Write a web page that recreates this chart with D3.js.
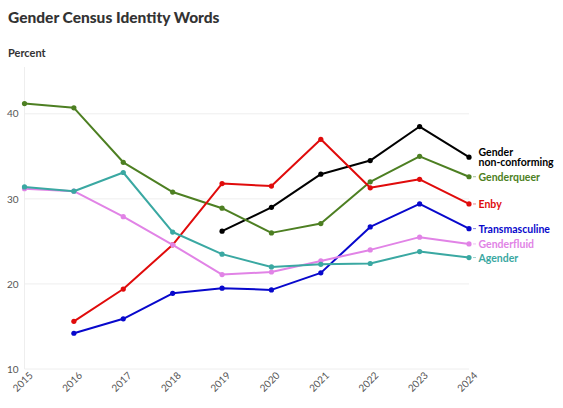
<!DOCTYPE html>
<html>
<head>
<meta charset="utf-8">
<script src="https://cdn.jsdelivr.net/npm/d3@7"></script>
<style>
  body { margin: 0; background: #fff; }
  svg { display: block; font-family: Lato, "Noto Sans", sans-serif; }
</style>
</head>
<body>
<svg id="chart" width="563" height="408"></svg>
<script>
// data
const years = [2015, 2016, 2017, 2018, 2019, 2020, 2021, 2022, 2023, 2024];
const genderqueer = [41.2, 40.7, 34.3, 30.8, 28.9, 26.0, 27.1, 32.0, 35.0, 32.6];
const agender = [31.4, 30.9, 33.1, 26.1, 23.5, 22.0, 22.3, 22.4, 23.8, 23.1];
const genderfluid = [31.2, 30.9, 27.9, 24.6, 21.1, 21.4, 22.7, 24.0, 25.5, 24.7];
const enby = [null, 15.6, 19.4, 24.6, 31.8, 31.5, 37.0, 31.3, 32.3, 29.4];
const transmasculine = [null, 14.2, 15.9, 18.9, 19.5, 19.3, 21.3, 26.7, 29.4, 26.5];
const nonConforming = [null, null, null, null, 26.2, 29.0, 32.9, 34.5, 38.5, 34.9];
const yTicks = [10, 20, 30, 40];

const series = [
  { name: ["Gender", "non-conforming"], values: nonConforming, color: "#000000" },
  { name: ["Genderqueer"], values: genderqueer, color: "#4d7f22" },
  { name: ["Enby"], values: enby, color: "#e00b0b" },
  { name: ["Transmasculine"], values: transmasculine, color: "#0808cc" },
  { name: ["Genderfluid"], values: genderfluid, color: "#e183e6" },
  { name: ["Agender"], values: agender, color: "#3aa8a2" }
];

const margin = { top: 67, right: 94, bottom: 39, left: 24.5 };
const width = 563, height = 408;

const svg = d3.select("#chart");

svg.append("text")
  .attr("x", 8).attr("y", 23)
  .attr("font-size", 15.5).attr("font-weight", 900).attr("fill", "#333")
  .text("Gender Census Identity Words");

svg.append("text")
  .attr("x", 8).attr("y", 57)
  .attr("font-size", 11).attr("font-weight", 700).attr("fill", "#333")
  .text("Percent");

const x = d3.scalePoint()
  .domain(years)
  .range([margin.left, width - margin.right]);

const y = d3.scaleLinear()
  .domain([10, 45.5])
  .range([height - margin.bottom, margin.top]);

const g = svg.append("g");

// grid
g.selectAll(".grid")
  .data(yTicks)
  .enter()
  .append("line")
  .attr("x1", margin.left).attr("x2", width - margin.right)
  .attr("y1", d => y(d)).attr("y2", d => y(d))
  .attr("stroke", "#eeeeee");

g.append("line")
  .attr("x1", margin.left).attr("x2", margin.left)
  .attr("y1", y(45.5)).attr("y2", y(10))
  .attr("stroke", "#eeeeee");

// y axis labels
const yAxis = svg.append("g")
  .attr("transform", "translate(" + margin.left + ",0)")
  .call(d3.axisLeft(y).tickValues(yTicks).tickSize(0).tickPadding(6));
yAxis.select(".domain").remove();
yAxis.selectAll("text")
  .attr("font-family", "Lato, 'Noto Sans', sans-serif")
  .attr("font-size", 10).attr("fill", "#555");

// x axis labels
const xAxis = svg.append("g")
  .attr("transform", "translate(0," + (height - margin.bottom) + ")")
  .call(d3.axisBottom(x).tickSize(0).tickPadding(6).tickFormat(d3.format("d")));
xAxis.select(".domain").remove();
xAxis.selectAll("text")
  .attr("font-family", "Lato, 'Noto Sans', sans-serif")
  .attr("font-size", 10).attr("fill", "#555")
  .attr("text-anchor", "end")
  .attr("dx", "0.1em").attr("dy", "0.5em")
  .attr("transform", "rotate(-45)");

const line = d3.line()
  .defined(d => d.v != null)
  .x(d => x(d.year))
  .y(d => y(d.v));

series.forEach(s => {
  const pts = years.map((yr, i) => ({ year: yr, v: s.values[i] }));
  g.append("path")
    .datum(pts)
    .attr("fill", "none")
    .attr("stroke", s.color)
    .attr("stroke-width", 2)
    .attr("stroke-linejoin", "round")
    .attr("d", line);

  g.selectAll(null)
    .data(pts.filter(d => d.v != null))
    .enter()
    .append("circle")
    .attr("cx", d => x(d.year))
    .attr("cy", d => y(d.v))
    .attr("r", 2.6)
    .attr("fill", s.color);

  const last = pts[pts.length - 1];
  const lx = x(last.year), ly = y(last.v);
  if (s.name.length === 1) {
    g.append("line")
      .attr("x1", lx + 4).attr("x2", lx + 7)
      .attr("y1", ly).attr("y2", ly)
      .attr("stroke", s.color).attr("stroke-opacity", 0.5);
  }
  const t = g.append("text")
    .attr("x", lx + 9.5)
    .attr("y", ly - (s.name.length - 1) * 5.5)
    .attr("font-size", 10.5)
    .attr("font-weight", 700)
    .attr("fill", s.color)
    .attr("dominant-baseline", "central");
  s.name.forEach((n, i) => {
    t.append("tspan").attr("x", lx + 9.5).attr("dy", i ? 10.5 : 0).text(n);
  });
});
</script>
</body>
</html>
